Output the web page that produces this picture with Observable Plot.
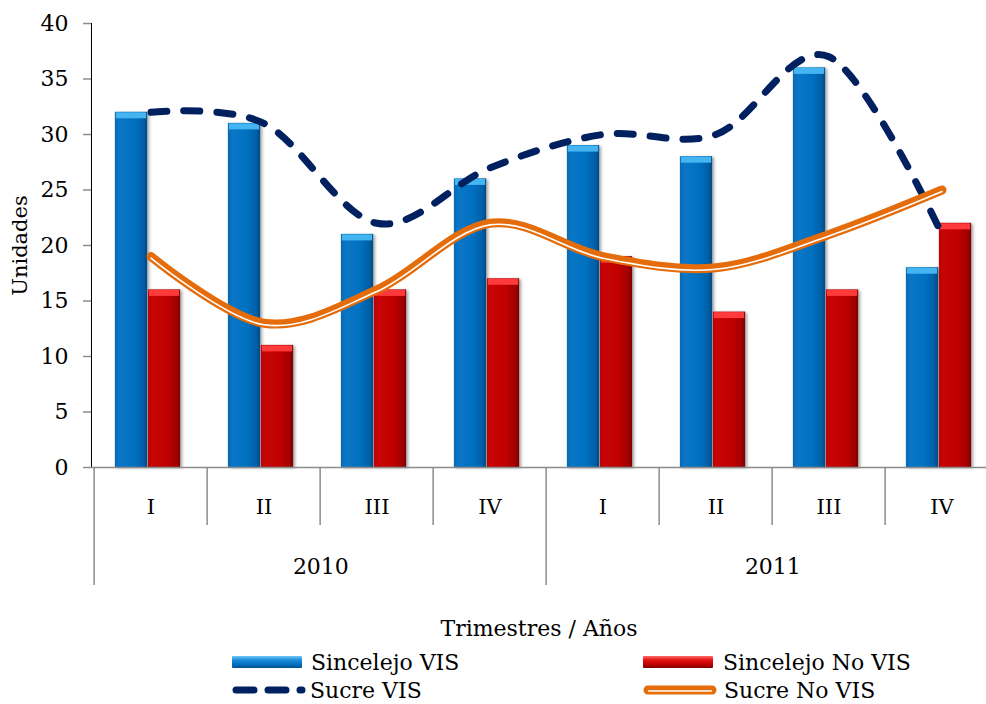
<!DOCTYPE html>
<html>
<head>
<meta charset="utf-8">
<script src="https://cdn.jsdelivr.net/npm/d3@7"></script>
<script src="https://cdn.jsdelivr.net/npm/@observablehq/plot@0.6"></script>
<style>
  body { margin: 0; background: #fff; font-family: "DejaVu Serif", serif; }
  #chart { position: relative; width: 986px; height: 704px; overflow: hidden; background: #fff; }
  #chart svg { display: block; }
  .li { position: absolute; display: flex; align-items: center; height: 28px; white-space: nowrap; font-size: 22px; color: #000; }
  .sw { display: inline-block; flex: none; }
  g[aria-label^="y-axis"] line, g[aria-label^="y-axis"] path { stroke: #8c8c8c; stroke-width: 1.5; }
  g[aria-label="bar"] rect { filter: drop-shadow(2px 1px 1.5px rgba(0,0,0,0.35)); }
</style>
</head>
<body>
<div id="chart"></div>
<script>
// ---- data ----
const years = ["2010", "2011"];
const quarters = ["I", "II", "III", "IV"];
const sincelejoVIS   = [32, 31, 21, 26, 29, 28, 36, 18];
const sincelejoNoVIS = [16, 11, 16, 17, 19, 14, 16, 22];
const sucreVIS       = [32, 31, 22, 27, 30, 30, 37, 21];
const sucreNoVIS     = [19, 13, 16, 22, 19, 18, 21, 25];
const yTicks = [0, 5, 10, 15, 20, 25, 30, 35, 40];
const seriesNames = ["Sincelejo VIS", "Sincelejo No VIS", "Sucre VIS", "Sucre No VIS"];
const xTitle = "Trimestres / Años";
const yTitle = "Unidades";

// ---- table ----
const keys = years.flatMap(y => quarters.map(q => `${y} ${q}`));
const rows = keys.map((key, i) => ({
  key, year: years[Math.floor(i / quarters.length)], q: quarters[i % quarters.length],
  sv: sincelejoVIS[i], snv: sincelejoNoVIS[i], cv: sucreVIS[i], cnv: sucreNoVIS[i]
}));

// ---- layout / style ----
const W = 986, H = 645;
const xRange = [91, 1001];
const bw = (xRange[1] - xRange[0]) / keys.length;
const barW = 33;
const barShift = -3;
const grey = "#8c8c8c";
const navy = "#002060";
const orange = "#E46C0A";

const svg = Plot.plot({
  width: W, height: H,
  marginTop: 23, marginBottom: 178, marginLeft: 91, marginRight: 0,
  style: { fontFamily: '"DejaVu Serif", serif', fontSize: "22px", color: "#000", background: "transparent", overflow: "visible" },
  x: { type: "band", domain: keys, range: xRange, padding: 0, axis: null },
  y: { domain: [0, 40], ticks: yTicks, tickSize: 8, tickPadding: 15, line: true, label: null, grid: false },
  marks: [
    Plot.barY(rows, { x: "key", y: "sv", fill: "url(#gBlue)", dx: barShift, insetLeft: bw / 2 - barW, insetRight: bw / 2 }),
    Plot.barY(rows, { x: "key", y: "snv", fill: "url(#gRed)", dx: barShift, insetLeft: bw / 2, insetRight: bw / 2 - barW }),
    Plot.tickY(rows, { x: "key", y: "sv", stroke: "#45b5f2", strokeWidth: 6, dx: barShift, dy: 3, insetLeft: bw / 2 - barW + 1, insetRight: bw / 2 + 1 }),
    Plot.tickY(rows, { x: "key", y: "snv", stroke: "#ff3a3a", strokeWidth: 6, dx: barShift, dy: 3, insetLeft: bw / 2 + 1, insetRight: bw / 2 - barW + 1 }),
    Plot.ruleY([0], { stroke: grey, strokeWidth: 1.5 }),
    // category separators
    Plot.ruleX(rows.filter(r => r.q !== quarters[0]), { x: "key", dx: -bw / 2, y1: 0, y2: 0, insetBottom: -58, stroke: grey, strokeWidth: 1.5 }),
    Plot.ruleX(rows.filter(r => r.q === quarters[0]), { x: "key", dx: -bw / 2, y1: 0, y2: 0, insetBottom: -118, stroke: grey, strokeWidth: 1.5 }),
    // category labels
    Plot.text(rows, { x: "key", y: 0, text: "q", dy: 40, fontSize: 21 }),
    Plot.text(rows.filter(r => r.q === quarters[1]), { x: "key", y: 0, text: "year", dx: bw / 2, dy: 99, fontSize: 22 }),
    // lines
    Plot.line(rows, { x: "key", y: "cv", stroke: navy, strokeWidth: 7, strokeDasharray: "16 17", strokeLinecap: "round", curve: "cardinal" }),
    Plot.line(rows, { x: "key", y: "cnv", stroke: orange, strokeWidth: 9, strokeLinecap: "round", curve: "cardinal" }),
    Plot.line(rows, { x: "key", y: "cnv", stroke: "#fff", strokeWidth: 1.6, dy: 1.6, curve: "cardinal" }),
    // axis titles
    Plot.text([xTitle], { frameAnchor: "bottom", lineAnchor: "middle", text: d => d, dy: 161, fontSize: 22 }),
    Plot.text([yTitle], { frameAnchor: "left", textAnchor: "middle", lineAnchor: "middle", text: d => d, rotate: -90, dx: -71, fontSize: 21 })
  ]
});

const defs = document.createElementNS("http://www.w3.org/2000/svg", "defs");
defs.innerHTML = `
  <linearGradient id="gBlue" x1="0" x2="1" y1="0" y2="0">
    <stop offset="0" stop-color="#0a68b4"/>
    <stop offset="0.15" stop-color="#0a76c6"/>
    <stop offset="0.6" stop-color="#0070c0"/>
    <stop offset="0.88" stop-color="#005fa6"/>
    <stop offset="1" stop-color="#004a85"/>
  </linearGradient>
  <linearGradient id="gRed" x1="0" x2="1" y1="0" y2="0">
    <stop offset="0" stop-color="#b80404"/>
    <stop offset="0.15" stop-color="#c80404"/>
    <stop offset="0.6" stop-color="#c00000"/>
    <stop offset="0.88" stop-color="#a00000"/>
    <stop offset="1" stop-color="#7e0000"/>
  </linearGradient>`;
svg.insertBefore(defs, svg.firstChild);

const chart = document.getElementById("chart");
chart.appendChild(svg);

// ---- legend ----
const legendItems = [
  { name: seriesNames[0], left: 232, top: 648, gap: 9,
    sw: `<span class="sw" style="width:70px;height:12px;background:linear-gradient(to bottom,#6cc8f7,#1d8ad8 35%,#0070c0 70%,#00508e);border-radius:1px"></span>` },
  { name: seriesNames[1], left: 643, top: 648, gap: 10,
    sw: `<span class="sw" style="width:70px;height:12px;background:linear-gradient(to bottom,#ff6a6a,#e01010 35%,#c00000 70%,#7e0000);border-radius:1px"></span>` },
  { name: seriesNames[2], left: 229, top: 676, gap: 3,
    sw: `<svg class="sw" width="78" height="12"><line x1="7" y1="6" x2="73" y2="6" stroke="${navy}" stroke-width="7" stroke-linecap="round" stroke-dasharray="18 14"/></svg>` },
  { name: seriesNames[3], left: 643, top: 676, gap: 7,
    sw: `<svg class="sw" width="74" height="12"><line x1="5" y1="6" x2="69" y2="6" stroke="${orange}" stroke-width="9" stroke-linecap="round"/><line x1="5" y1="7" x2="69" y2="7" stroke="#fff" stroke-width="1.6"/></svg>` }
];
for (const it of legendItems) {
  const d = document.createElement("div");
  d.className = "li";
  d.style.left = it.left + "px";
  d.style.top = it.top + "px";
  d.innerHTML = it.sw + `<span style="margin-left:${it.gap}px">${it.name}</span>`;
  chart.appendChild(d);
}
</script>
</body>
</html>
